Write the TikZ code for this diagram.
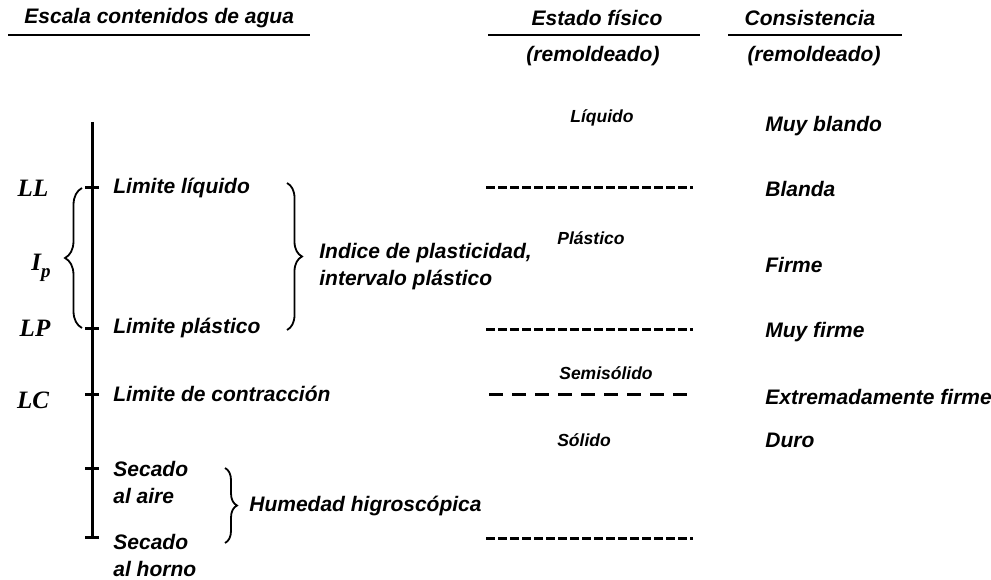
\documentclass[tikz,border=0pt]{standalone}
\usepackage{fontspec}
\setmainfont{Liberation Sans}
\newfontfamily\letraserif{Liberation Serif}
\usetikzlibrary{decorations.pathreplacing}

\begin{document}
\begin{tikzpicture}[x=1pt, y=-1pt, line width=2.8pt,
  txt/.style={font=\fontsize{21}{27}\selectfont\bfseries\itshape, inner sep=0pt, align=left},
  estado/.style={font=\fontsize{17.5}{20}\selectfont\bfseries\itshape, inner sep=0pt},
  lim/.style={font=\fontsize{25}{27}\selectfont\letraserif\bfseries\itshape, inner sep=0pt},
  rayas/.style={line width=3pt, dash pattern=on 9pt off 3pt},
  rayaslargas/.style={line width=3pt, dash pattern=on 14pt off 9pt},
  llave/.style={line width=1.8pt, decorate}]
  \useasboundingbox (0,0) rectangle (991,580);
  % titulos
  \node[txt, anchor=west] (tEsc) at (23,18) {Escala contenidos de agua};
  \node[txt] (tEst) at (597,18) {Estado físico};
  \node[txt] (tRem1) at (593,56) {(remoldeado)};
  \node[txt] (tCon) at (810,18) {Consistencia};
  \node[txt] (tRem2) at (814,56) {(remoldeado)};
  \coordinate (s1a) at (8,35);   \coordinate (s1b) at (310,35);
  \coordinate (s2a) at (488,35); \coordinate (s2b) at (700,35);
  \coordinate (s3a) at (728,35); \coordinate (s3b) at (902,35);
  \draw (s1a)--(s1b) (s2a)--(s2b) (s3a)--(s3b);
  % eje de contenidos de agua
  \coordinate (ejeA) at (92,122);
  \coordinate (ejeB) at (92,537);
  \draw[line width=3pt] (ejeA)--(ejeB);
  \foreach \n/\y in {LL/188, LP/328, LC/394, SA/468, SH/537}{
    \coordinate (t\n) at (92,\y);
    \draw[line width=3pt] ([xshift=-7pt]t\n)--([xshift=7pt]t\n);
  }
  % limites
  \node[lim] (nLL) at (33,188) {LL};
  \node[lim] (nIp) at (41,268) {I\raisebox{-0.3em}{\fontsize{19}{19}\selectfont p}};
  \node[lim] (nLP) at (35,328) {LP};
  \node[lim] (nLC) at (33,400) {LC};
  \coordinate (bIa) at (82,328); \coordinate (bIb) at (82,188);
  \draw[llave, decoration={brace, amplitude=17pt}] (bIa)--(bIb);
  \node[txt, anchor=west] (lLL) at (112,188) {Limite líquido};
  \node[txt, anchor=west] (lLP) at (112,328) {Limite plástico};
  \node[txt, anchor=west] (lLC) at (112,394) {Limite de contracción};
  \node[txt, anchor=west] (lSA) at (112,482) {Secado\\al aire};
  \node[txt, anchor=west] (lSH) at (112,555) {Secado\\al horno};
  % llaves de la derecha
  \coordinate (bPa) at (287,183); \coordinate (bPb) at (287,330);
  \draw[llave, decoration={brace, amplitude=15pt}] (bPa)--(bPb);
  \node[txt, anchor=west] (lIP) at (318,267) {Indice de plasticidad,\\intervalo plástico};
  \coordinate (bHa) at (225,468); \coordinate (bHb) at (225,543);
  \draw[llave, decoration={brace, amplitude=12pt}] (bHa)--(bHb);
  \node[txt, anchor=west] (lHum) at (248,506) {Humedad higroscópica};
  % estado fisico
  \node[estado] (eLiq) at (602,118) {Líquido};
  \node[estado] (ePla) at (591,238) {Plástico};
  \node[estado] (eSem) at (606,373) {Semisólido};
  \node[estado] (eSol) at (584,440) {Sólido};
  \coordinate (d1a) at (486,188); \coordinate (d1b) at (693,188);
  \coordinate (d2a) at (486,329); \coordinate (d2b) at (693,329);
  \coordinate (d3a) at (489,394); \coordinate (d3b) at (690,394);
  \coordinate (d4a) at (486,538); \coordinate (d4b) at (693,538);
  \draw[rayas] (d1a)--(d1b) (d2a)--(d2b) (d4a)--(d4b);
  \draw[rayaslargas] (d3a)--(d3b);
  % consistencia
  \node[txt, anchor=west] (cMB) at (764,126) {Muy blando};
  \node[txt, anchor=west] (cBl) at (764,189) {Blanda};
  \node[txt, anchor=west] (cFi) at (764,265) {Firme};
  \node[txt, anchor=west] (cMF) at (764,332) {Muy firme};
  \node[txt, anchor=west] (cEF) at (764,397) {Extremadamente firme};
  \node[txt, anchor=west] (cDu) at (764,440) {Duro};
\end{tikzpicture}
\end{document}
